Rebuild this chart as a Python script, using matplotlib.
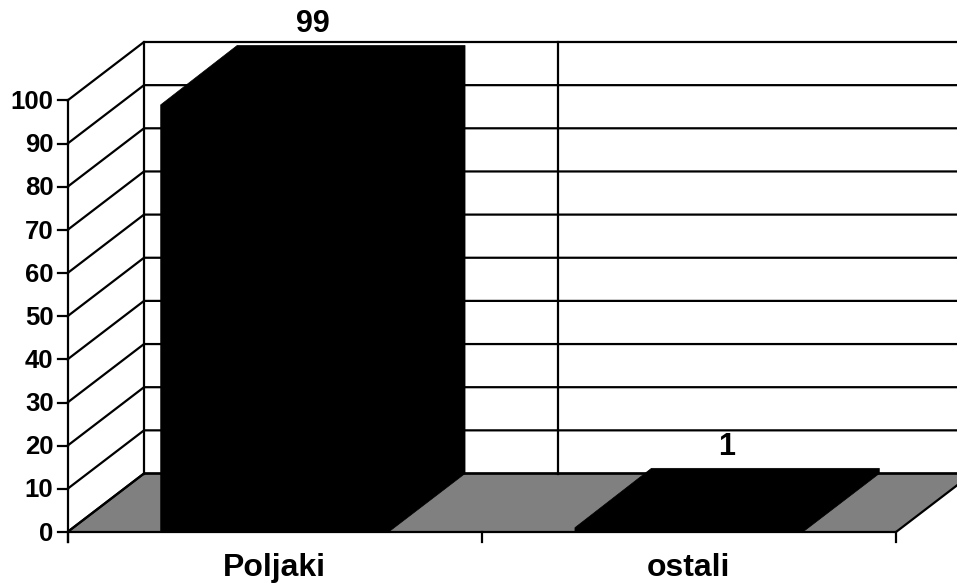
import matplotlib
matplotlib.use("Agg")
import matplotlib.pyplot as plt
from matplotlib.patches import Polygon

plt.rcParams['font.family'] = ['Liberation Sans', 'DejaVu Sans']

categories = ["Poljaki", "ostali"]
values = [99, 1]
value_ticks = [0, 10, 20, 30, 40, 50, 60, 70, 80, 90, 100]

W, H = 957, 583
X0, X_UNIT = 67.5, 414.25      # pixel of category 0, pixels per category
Y0, Y_UNIT = 532.0, 4.315      # pixel of value 0, pixels per value unit
DX = 76.5 / X_UNIT             # depth offset in category units
DY = 58.5 / Y_UNIT             # depth offset in value units
BAR_L, BAR_R = 0.225, 0.775    # bar extent inside its category

fig = plt.figure(figsize=(W / 100, H / 100), dpi=100)
ax = fig.add_axes([0, 0, 1, 1])
ax.set_xlim(-X0 / X_UNIT, (W - X0) / X_UNIT)
ax.set_ylim((Y0 - H) / Y_UNIT, Y0 / Y_UNIT)
ax.axis("off")

n = len(categories)
vmax = value_ticks[-1]
LW = 1.6

# floor
ax.add_patch(Polygon([(0, 0), (n, 0), (n + DX, DY), (DX, DY)], closed=True,
                     facecolor="#808080", edgecolor="black", lw=LW, zorder=1))

# walls and gridlines
for v in value_ticks:
    ax.plot([0, DX, n + DX], [v, v + DY, v + DY], color="black", lw=LW, zorder=2,
            solid_joinstyle="miter")
    ax.plot([-9.5 / X_UNIT, 0], [v, v], color="black", lw=LW, zorder=2)
    ax.text(-14 / X_UNIT, v + 0.2, str(v), ha="right", va="center_baseline",
            fontsize=18.5, fontweight="bold", zorder=5)

ax.plot([0, 0], [-9.5 / Y_UNIT, vmax], color="black", lw=LW, zorder=2)
for i in range(n + 1):
    ax.plot([i + DX, i + DX], [DY, vmax + DY], color="black", lw=LW, zorder=2)
    ax.plot([i, i], [-9.5 / Y_UNIT, 0], color="black", lw=LW, zorder=2)

# bars
for i, (cat, val) in enumerate(zip(categories, values)):
    l, r = i + BAR_L, i + BAR_R
    ax.add_patch(Polygon([(l, 0), (r, 0), (r + DX, DY), (r + DX, val + DY + 0.2),
                          (l + DX, val + DY + 0.2), (l, val)], closed=True,
                         facecolor="black", edgecolor="black", lw=0.5, zorder=3))
    ax.text(i + 0.5 + DX / 2, val + DY + 7 / Y_UNIT, str(val), ha="center", va="bottom",
            fontsize=22, fontweight="bold", zorder=5)
    ax.text(i + 0.5, -32.5 / Y_UNIT, cat, ha="center", va="center_baseline",
            fontsize=23, fontweight="bold", zorder=5)

fig.savefig("out.png", dpi=100)
